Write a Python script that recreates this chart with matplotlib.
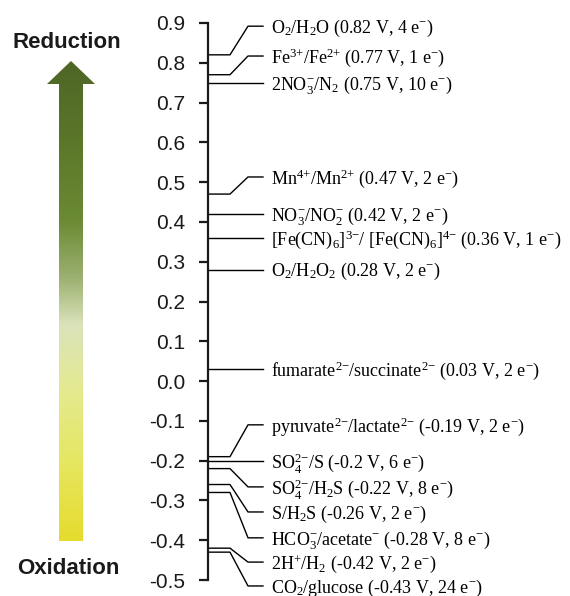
import numpy as np
import matplotlib.pyplot as plt
from matplotlib.patches import Polygon
from matplotlib.colors import LinearSegmentedColormap
from matplotlib.transforms import ScaledTranslation

plt.rcParams['axes.unicode_minus'] = False
plt.rcParams['mathtext.fontset'] = 'custom'
plt.rcParams['mathtext.rm'] = 'Liberation Serif'
plt.rcParams['mathtext.it'] = 'Liberation Serif:italic'

# redox couples: label, potential (V)
labels = [
    r'O$_2$/H$_2$O (0.82 V, 4 e$^{{-}}$)',
    r'Fe$^{3{+}}$/Fe$^{2{+}}$ (0.77 V, 1 e$^{{-}}$)',
    r'2NO$_3^{{-}}$/N$_2$ (0.75 V, 10 e$^{{-}}$)',
    r'Mn$^{4{+}}$/Mn$^{2{+}}$ (0.47 V, 2 e$^{{-}}$)',
    r'NO$_3^{{-}}$/NO$_2^{{-}}$ (0.42 V, 2 e$^{{-}}$)',
    r'[Fe(CN)$_6$]$^{3{-}}$/ [Fe(CN)$_6$]$^{4{-}}$ (0.36 V, 1 e$^{{-}}$)',
    r'O$_2$/H$_2$O$_2$ (0.28 V, 2 e$^{{-}}$)',
    r'fumarate$^{2{-}}$/succinate$^{2{-}}$ (0.03 V, 2 e$^{{-}}$)',
    r'pyruvate$^{2{-}}$/lactate$^{2{-}}$ (-0.19 V, 2 e$^{{-}}$)',
    r'SO$_4^{2{-}}$/S (-0.2 V, 6 e$^{{-}}$)',
    r'SO$_4^{2{-}}$/H$_2$S (-0.22 V, 8 e$^{{-}}$)',
    r'S/H$_2$S (-0.26 V, 2 e$^{{-}}$)',
    r'HCO$_3^{{-}}$/acetate$^{{-}}$ (-0.28 V, 8 e$^{{-}}$)',
    r'2H$^{{+}}$/H$_2$ (-0.42 V, 2 e$^{{-}}$)',
    r'CO$_2$/glucose (-0.43 V, 24 e$^{{-}}$)',
]
potentials = [0.82, 0.77, 0.75, 0.47, 0.42, 0.36, 0.28, 0.03,
              -0.19, -0.2, -0.22, -0.26, -0.28, -0.42, -0.43]
# where each label sits (V), spread out so the texts don't overlap
label_pos = [0.892, 0.817, 0.75, 0.513, 0.42, 0.36, 0.28, 0.03,
             -0.110, -0.2, -0.266, -0.329, -0.394, -0.455, -0.515]
tick_vals = [0.9, 0.8, 0.7, 0.6, 0.5, 0.4, 0.3, 0.2, 0.1, 0.0,
             -0.1, -0.2, -0.3, -0.4, -0.5]
tick_text = ['0.9', '0.8', '0.7', '0.6', '0.5', '0.4', '0.3', '0.2', '0.1', '0.0',
             '-0.1', '-0.2', '-0.3', '-0.4', '-0.5']

W, H = 570, 596
fig = plt.figure(figsize=(W / 100, H / 100), dpi=100)

# background axes in pixel units for the arrow and its captions
bg = fig.add_axes([0, 0, 1, 1])
bg.axis('off')

arrow = Polygon([(71, 61), (95, 84), (83, 84), (83, 541), (59, 541), (59, 84), (47, 84)],
                closed=True, facecolor='none', edgecolor='none')
bg.add_patch(arrow)
cmap = LinearSegmentedColormap.from_list('redox', [
    (0.0, '#4e6626'), (0.15, '#5a7529'), (0.33, '#6b8a33'), (0.45, '#9bb070'),
    (0.55, '#dbe3bb'), (0.68, '#e4ea92'), (0.82, '#e5e766'), (1.0, '#e6dc2e')])
grad = np.linspace(0, 1, 256).reshape(-1, 1)
im = bg.imshow(grad, cmap=cmap, extent=(47, 95, 541, 61), aspect='auto')
im.set_clip_path(arrow)
bg.set_xlim(0, W)
bg.set_ylim(H, 0)

bg.text(67, 42, 'Reduction', ha='center', va='center', fontsize=16,
        fontweight='bold', family='Liberation Sans', color='#1a1a1a')
bg.text(68, 569, 'Oxidation', ha='center', va='center', fontsize=16,
        fontweight='bold', family='Liberation Sans', color='#1a1a1a')

# main axis: x in pixels right of the axis line, y in volts
ax = fig.add_axes([208 / W, 16 / H, 362 / W, 557 / H])
ax.patch.set_alpha(0)
ax.set_xlim(0, 362)
ax.set_ylim(-0.5, 0.9)
for s in ['top', 'right', 'bottom']:
    ax.spines[s].set_visible(False)
ax.spines['left'].set_linewidth(1.6)
ax.spines['left'].set_color('#1a1a1a')
ax.set_xticks([])
ax.set_yticks(tick_vals)
ax.set_yticklabels(tick_text, family='Liberation Sans', fontsize=15, color='#1a1a1a')
ax.tick_params(axis='y', length=6.5, width=1.6, pad=10, color='#1a1a1a')

x1, x2, x3, xt = 22, 40, 55, 63
shift = ScaledTranslation(0, -2 / 100, fig.dpi_scale_trans)
for lab, v, p in zip(labels, potentials, label_pos):
    if abs(v - p) < 1e-6:
        ax.plot([0, x3], [v, v], color='black', lw=1.0, clip_on=False)
    else:
        ax.plot([0, x1, x2, x3], [v, v, p, p], color='black', lw=1.0, clip_on=False)
    ax.text(xt, p, lab, ha='left', va='center', fontsize=13,
            family='Liberation Serif', transform=ax.transData + shift, clip_on=False)

fig.savefig('out.png', dpi=100)
